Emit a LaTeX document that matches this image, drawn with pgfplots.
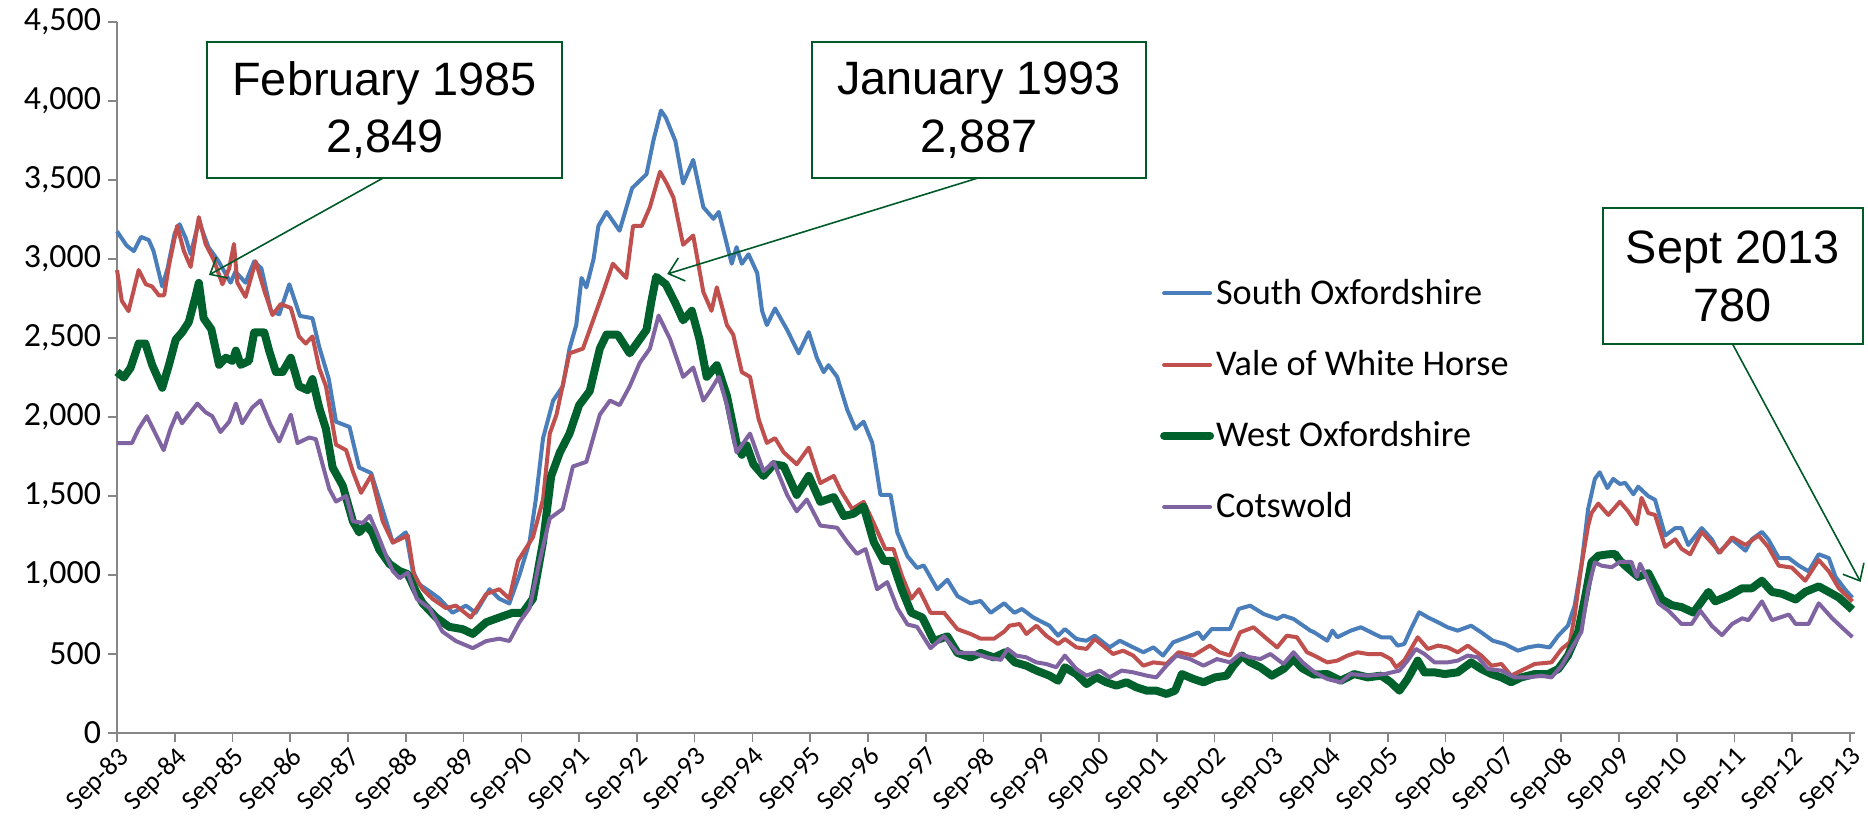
\documentclass[border=0pt]{standalone}
\usepackage{fontspec}
\setmainfont{Carlito}
\newfontfamily\arialfont{Liberation Sans}
\usepackage{pgfplots}
\pgfplotsset{compat=1.18}
\usetikzlibrary{arrows.meta}
\definecolor{soxf}{RGB}{74,126,187}
\definecolor{vale}{RGB}{192,80,77}
\definecolor{woxf}{RGB}{0,97,45}
\definecolor{cots}{RGB}{128,100,162}
\definecolor{axgray}{RGB}{134,134,134}
\definecolor{annot}{RGB}{0,90,40}
\begin{document}
\begin{tikzpicture}
\begin{axis}[
  name=main,
  scale only axis,
  width=868.9bp, height=355.5bp,
  xmin=0, xmax=361, ymin=0, ymax=4500,
  axis x line*=bottom, axis y line*=left,
  axis line style={axgray, line width=0.8bp, -},
  xtick={0,12,...,360},
  xticklabels={Sep-83,Sep-84,Sep-85,Sep-86,Sep-87,Sep-88,Sep-89,Sep-90,Sep-91,Sep-92,Sep-93,Sep-94,Sep-95,Sep-96,Sep-97,Sep-98,Sep-99,Sep-00,Sep-01,Sep-02,Sep-03,Sep-04,Sep-05,Sep-06,Sep-07,Sep-08,Sep-09,Sep-10,Sep-11,Sep-12,Sep-13},
  ytick={0,500,...,4500},
  tick style={axgray, line width=0.8bp},
  tick align=outside,
  major tick length=4.5bp,
  /pgf/number format/1000 sep={,},
  /pgf/number format/assume math mode=true,
  yticklabel style={font=\fontsize{17}{20}\selectfont, text=black},
  xticklabel style={rotate=45, anchor=north east, font=\fontsize{13.5}{16}\selectfont, text=black, inner sep=1bp},
  clip=false,
  legend style={at={(0.600,0.6415)}, anchor=north west, draw=none, fill=none,
    font=\fontsize{18.2}{22}\selectfont, row sep=19.5bp, inner sep=0pt,
    nodes={inner sep=1bp}},
  legend cell align=left,
  legend image code/.code={\draw[#1, line cap=round] (0bp,0bp) -- (23bp,0bp);},
  every axis plot/.append style={line join=round},
]
\addplot[soxf, line width=2bp] coordinates {(0,3175) (2,3085) (3.5,3050) (5,3140) (6.6,3120) (7.6,3050) (9.4,2826) (10.5,2940) (12,3165) (13,3220) (14.3,3130) (15.3,3030) (17,3240) (19,3075) (21,2990) (23.6,2850) (24.6,2920) (26.7,2850) (28.5,2985) (30,2940) (32,2670) (33.7,2650) (35.8,2840) (38,2640) (40.6,2625) (42,2445) (44,2240) (45.5,1970) (48.3,1937) (50.3,1680) (52.8,1645) (55,1430) (57.3,1205) (60,1270) (61.4,1030) (62.8,940) (65,895) (67,850) (69.7,761) (72.5,806) (74.5,761) (77.4,910) (79.4,850) (81.5,820) (83.6,1000) (85.7,1209) (87,1478) (88.5,1865) (90.6,2104) (92.6,2194) (94,2433) (95.4,2582) (96.5,2880) (97.5,2820) (99,3000) (100,3209) (101.7,3298) (104.4,3179) (107,3448) (110,3537) (111.4,3746) (113,3940) (114,3895) (116,3746) (117.6,3478) (119.7,3627) (121.8,3328) (123.9,3254) (125,3298) (127.7,2970) (128.7,3075) (129.8,2970) (131.2,3030) (133,2910) (134,2672) (135,2582) (136.7,2687) (139.2,2552) (141.6,2403) (143.7,2537) (145.4,2373) (146.8,2284) (147.8,2328) (149.6,2254) (151.7,2045) (153.4,1925) (155.1,1970) (156.9,1836) (158.6,1507) (160.7,1507) (162.1,1269) (164.2,1119) (166.2,1045) (167.6,1060) (170.4,910) (172.5,970) (174.6,866) (177.3,821) (179.4,836) (181.5,761) (184.3,821) (186.4,761) (188,785) (190.3,732) (193.7,679) (195.5,616) (196.9,658) (199.3,595) (201.4,584) (203.1,616) (206.2,542) (208.3,584) (211.1,542) (213.2,511) (215.3,542) (217.3,490) (219.4,574) (222.2,606) (224.6,637) (225.6,595) (227.4,658) (229.5,658) (231.2,658) (233,785) (235.4,806) (238.2,753) (241,722) (242.3,743) (244.4,722) (247.9,648) (248.7,637) (251.4,584) (252.5,648) (253.5,606) (256.3,648) (258.4,669) (260.5,637) (262.6,606) (264.6,606) (266,553) (267.4,563) (268.8,658) (270.5,764) (272.3,732) (274.4,701) (276.4,669) (278.5,648) (281.3,679) (283.4,637) (285.8,584) (288.3,563) (291,521) (293.1,542) (295.2,553) (297.6,542) (299.4,616) (301.4,679) (302.8,806) (304.2,1059) (305.6,1418) (307,1608) (308,1650) (309.6,1550) (310.8,1608) (312.2,1576) (313.3,1583) (315,1511) (316,1559) (318.1,1499) (319.5,1476) (321.6,1250) (323.7,1297) (325,1297) (326.4,1190) (329.2,1297) (331.3,1226) (332.7,1142) (335.5,1226) (338.3,1154) (339.6,1226) (341.7,1273) (343,1226) (345.2,1107) (347.3,1107) (349.4,1059) (351.4,1023) (353.5,1131) (355.6,1107) (357,988) (359.1,904) (360.5,857)};
\addplot[vale, line width=2bp] coordinates {(0,2930) (1,2735) (2.4,2670) (4.5,2930) (6,2840) (7.3,2826) (8.7,2770) (9.8,2770) (10.8,2960) (12.5,3210) (13.9,3050) (15.3,2950) (17,3265) (18.4,3095) (20.1,2995) (21.9,2840) (23.3,2940) (24.3,3095) (25,2850) (26.7,2760) (28.8,2985) (30.6,2800) (32.3,2645) (34,2715) (36.1,2690) (37.8,2510) (39.2,2465) (40.6,2510) (42,2310) (43.4,2195) (45.5,1825) (47.6,1790) (49,1655) (50.7,1520) (52.8,1630) (55.2,1340) (57.3,1205) (60.4,1250) (61.7,1000) (63.5,910) (65.5,850) (68.3,791) (70.4,806) (73.5,731) (76.7,880) (79.4,910) (81.5,850) (83.3,1090) (86.4,1239) (88.5,1478) (89.9,1895) (91.3,2015) (94,2403) (96.8,2433) (98.9,2612) (101,2791) (103,2970) (105.8,2880) (107.2,3209) (109,3209) (110.7,3328) (112.8,3552) (114.2,3478) (115.6,3388) (117.6,3090) (119.7,3149) (121.8,2791) (123.5,2672) (124.6,2821) (126.7,2582) (128,2522) (129.8,2284) (131.5,2254) (133.3,1985) (135,1836) (136.7,1866) (138.5,1776) (141.2,1701) (143.7,1806) (146.1,1582) (148.9,1627) (150.3,1537) (152.7,1418) (155.1,1463) (157.2,1328) (159.6,1164) (161.3,1164) (163,1000) (165,850) (166.6,910) (169,761) (171.8,761) (174.6,657) (177.3,627) (179.4,597) (182.2,597) (184.3,642) (185.4,679) (187.5,690) (188.9,627) (191,679) (193,616) (195.5,563) (196.9,595) (199.3,542) (201.4,532) (203.1,595) (204.8,553) (206.9,500) (209,521) (211.1,490) (213.2,426) (215.3,447) (218,437) (220.5,511) (223.6,490) (227,553) (229,511) (231.2,490) (233.3,637) (236.1,669) (238.9,595) (241,542) (243,616) (245.1,606) (247.2,511) (248.7,490) (251.4,447) (253.5,458) (255.6,490) (257.7,511) (259.8,500) (262.6,500) (264.6,468) (265.7,416) (267.4,458) (270.2,606) (272.3,532) (274.4,553) (276.4,542) (278.5,511) (280.6,553) (283.4,490) (285.5,426) (287.6,437) (289.6,363) (291.7,395) (294.5,437) (298,447) (300.1,532) (301.8,574) (302.8,743) (304.2,1059) (305.6,1312) (306.3,1392) (307.7,1452) (309.8,1380) (312.2,1464) (313.9,1404) (315.7,1321) (316.7,1488) (318.1,1392) (319.5,1380) (321.6,1178) (323.7,1226) (325,1166) (326.8,1131) (329.2,1273) (331.3,1202) (333,1142) (335.5,1238) (338.3,1190) (341,1250) (343,1178) (345.2,1059) (347.9,1047) (350.7,964) (353.5,1095) (355.6,1023) (357.7,916) (360.5,833)};
\addplot[woxf, line width=4bp] coordinates {(0,2285) (1.4,2250) (2.8,2310) (4.5,2465) (5.9,2465) (7.3,2330) (9.4,2185) (10.8,2330) (12.2,2490) (13.5,2535) (14.9,2600) (16.3,2760) (17,2849) (18,2625) (19.6,2555) (21.2,2330) (22.6,2375) (24,2355) (24.7,2420) (25.7,2330) (27.4,2355) (28.5,2535) (30.6,2535) (31.6,2420) (33,2285) (34.4,2285) (36.1,2375) (37.8,2195) (39.6,2170) (40.6,2240) (42,2060) (43.4,1925) (44.8,1680) (46.9,1565) (49,1340) (50.3,1270) (51.7,1315) (53,1270) (54.5,1160) (56.6,1070) (58.7,1025) (60.4,1005) (62.2,890) (63.5,821) (66.3,731) (69,672) (71.8,657) (73.9,627) (76.7,701) (79.4,731) (82.2,761) (84.3,761) (86.4,850) (88.5,1209) (90.2,1627) (92,1776) (94,1895) (96,2075) (98.2,2164) (100.3,2433) (101.7,2522) (104,2522) (106.5,2403) (108.6,2492) (110,2552) (111,2731) (112,2887) (114,2840) (116,2720) (117.6,2612) (119.4,2672) (121,2492) (122.5,2254) (124.6,2328) (126.7,2134) (128.7,1836) (129.8,1761) (130.8,1821) (132.2,1701) (134.3,1627) (136.4,1701) (138.5,1690) (141.2,1507) (143.7,1627) (146.1,1463) (148.9,1493) (151,1373) (153,1388) (155.1,1433) (157.2,1209) (159.3,1090) (161,1090) (163,910) (165,761) (167.3,731) (169.7,582) (172.5,612) (174.6,507) (177.3,478) (179.4,507) (182.2,478) (184.5,511) (186.5,447) (188.9,426) (191,395) (193.7,363) (195.5,331) (196.9,416) (199.3,373) (201.4,310) (203.5,352) (205.5,321) (207.6,300) (209.7,321) (211.8,289) (213.9,268) (215.9,268) (218,247) (219.8,268) (221.2,373) (223.6,342) (225.7,321) (228.1,352) (230.5,363) (231.9,426) (233.7,490) (235.4,447) (237.5,416) (239.9,363) (242.3,405) (244.4,468) (246.2,410) (248.6,370) (251.4,373) (254.2,331) (257,373) (259.8,352) (262.6,363) (264.6,321) (266.4,268) (268.1,342) (270.2,458) (271.6,384) (273.7,384) (275.8,373) (278.5,384) (281.3,447) (283.4,405) (285.5,373) (287.6,352) (289.6,321) (291.7,352) (294.5,373) (297.3,373) (299.4,405) (301.4,490) (303.5,637) (304.9,848) (306.3,1080) (307.7,1122) (309.8,1131) (311.2,1133) (312.2,1091) (313.3,1059) (316,988) (318.1,1012) (320.9,845) (323,809) (325,797) (327.5,762) (330.6,893) (332,833) (334.8,869) (337.6,916) (339.6,916) (341.7,964) (343.8,893) (345.9,881) (348.7,845) (350.7,893) (353.5,928) (355.6,893) (357.7,857) (360.5,780)};
\addplot[cots, line width=2bp] coordinates {(0,1835) (3.1,1835) (4.5,1925) (6.2,2005) (7.9,1900) (9.7,1790) (11.1,1925) (12.5,2025) (13.5,1960) (14.9,2015) (16.7,2085) (18.4,2030) (19.8,2005) (21.5,1905) (23.3,1970) (24.7,2085) (26,1960) (28.1,2060) (29.8,2105) (31.9,1950) (33.7,1845) (36.1,2015) (37.5,1835) (39.9,1870) (41.3,1860) (42.7,1700) (44.1,1545) (45.5,1465) (47.6,1500) (49,1340) (51.1,1330) (52.5,1375) (53.9,1275) (56,1115) (57.3,1025) (58.7,980) (60.4,1015) (62.3,848) (64.9,791) (67.6,642) (70.4,582) (73.9,537) (76.7,582) (79.4,597) (81.5,582) (83.6,701) (85.7,791) (87.8,1090) (89.9,1358) (92.6,1418) (94.7,1687) (97.5,1716) (100.3,2015) (102.4,2104) (104.4,2075) (106.5,2194) (108.6,2343) (110.7,2433) (112.5,2642) (114.9,2492) (117.6,2254) (119.7,2313) (121.8,2104) (123.2,2164) (125,2254) (126.7,2075) (128.7,1776) (131.5,1895) (134.3,1657) (136.4,1716) (139.2,1507) (141.2,1403) (143.3,1478) (146.1,1313) (149.6,1299) (151.7,1209) (153.7,1134) (155.5,1164) (157.9,910) (160,955) (162.1,791) (164.2,687) (166.2,672) (169,537) (171.8,612) (174.6,507) (178,507) (180.8,478) (183.6,463) (185,532) (186.8,490) (188.9,479) (191,447) (193,437) (195.1,416) (196.9,490) (199.3,405) (201.4,363) (204.2,395) (206.2,352) (208.7,395) (211.1,384) (213.9,363) (215.9,352) (218,426) (220.1,490) (222.9,468) (225.7,426) (228.5,468) (231.2,447) (233.3,500) (235.4,479) (237.5,468) (239.6,500) (242.3,437) (244.4,511) (246.3,446) (249,380) (251.4,342) (254.2,321) (256.3,373) (259.8,363) (263.3,373) (266.4,395) (268.1,458) (269.8,532) (271.6,500) (273.7,447) (276.4,447) (278.5,458) (280.6,490) (282.7,479) (284.8,405) (287.6,395) (290.3,352) (293.1,352) (295.9,363) (298,352) (300.1,426) (302.1,532) (304.2,640) (305.6,912) (307,1080) (308.4,1059) (310.5,1049) (312.2,1083) (314.6,1083) (315.7,988) (316.4,1071) (318.1,964) (320.2,821) (322.3,774) (325,690) (327.1,690) (328.9,774) (331.3,678) (333.4,619) (335.5,690) (337.6,726) (338.9,714) (341.7,833) (343.8,714) (347.3,750) (348.7,690) (351.4,690) (353.5,821) (356.3,726) (358.4,666) (360.5,607)};
\legend{South Oxfordshire, Vale of White Horse, West Oxfordshire, Cotswold}
\node[draw=annot, line width=1bp, fill=white, align=center, inner sep=0pt,
  font=\arialfont\fontsize{23.5}{29}\selectfont,
  minimum width=177.5bp, minimum height=68bp] at (axis cs:55.6,3943) {February 1985\\2,849};
\draw[annot, line width=0.8bp, -{Straight Barb[length=7bp,width=12bp]}] (axis cs:55.3,3513) -- (axis cs:19.1,2899);
\node[draw=annot, line width=1bp, fill=white, align=center, inner sep=0pt,
  font=\arialfont\fontsize{23.5}{29}\selectfont,
  minimum width=167bp, minimum height=68bp] at (axis cs:179.1,3943) {January 1993\\2,887};
\draw[annot, line width=0.8bp, -{Straight Barb[length=7bp,width=12bp]}] (axis cs:178.9,3513) -- (axis cs:114.3,2905);
\node[draw=annot, line width=1bp, fill=white, align=center, inner sep=0pt,
  font=\arialfont\fontsize{23.5}{29}\selectfont,
  minimum width=130bp, minimum height=68bp] at (axis cs:335.6,2892) {Sept 2013\\780};
\draw[annot, line width=0.8bp, -{Straight Barb[length=7bp,width=12bp]}] (axis cs:335.6,2462) -- (axis cs:362.2,956);
\end{axis}
\pgfresetboundingbox
\useasboundingbox (main.south west) ++(-58.5bp,-43bp) rectangle ++(934bp,409.5bp);
\end{tikzpicture}
\end{document}
